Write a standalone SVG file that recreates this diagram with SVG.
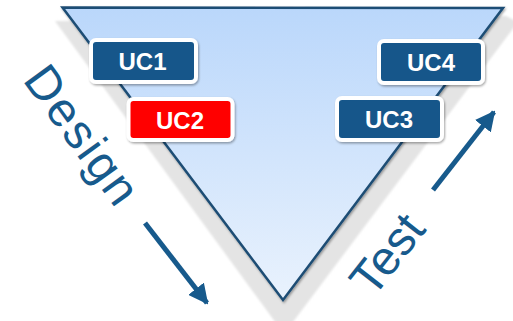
<svg xmlns="http://www.w3.org/2000/svg" width="513" height="321" viewBox="0 0 513 321">
<defs>
<linearGradient id="tri" x1="0" y1="0" x2="0" y2="1">
<stop offset="0" stop-color="#bad7fb"/>
<stop offset="1" stop-color="#e9f2fd"/>
</linearGradient>
<filter id="blur" x="-5%" y="-5%" width="110%" height="110%"><feGaussianBlur stdDeviation="1.2"/></filter>
<filter id="ds" x="-10%" y="-10%" width="130%" height="130%"><feDropShadow dx="1" dy="1.5" stdDeviation="1.2" flood-color="#000" flood-opacity="0.35"/></filter>
<marker id="ah" viewBox="0 0 10 10" refX="9" refY="5" markerWidth="4" markerHeight="4" orient="auto" markerUnits="strokeWidth">
<path d="M0,0 L10,5 L0,10 Z" fill="#175a8c"/>
</marker>
<style>
.box rect{stroke:#fff;stroke-width:4;filter:url(#ds)}
.blue rect{fill:#14568a}
.red rect{fill:#ff0000}
.box text{font-family:"Liberation Sans",Arial,sans-serif;font-weight:bold;font-size:24px;fill:#fff;text-anchor:middle}
.lbl{font-family:"Liberation Sans",Arial,sans-serif;font-size:48px;fill:#175a8c}
.arr{stroke:#175a8c;stroke-width:5;fill:none;marker-end:url(#ah)}
</style>
</defs>
<rect width="513" height="321" fill="#fff"/>
<g id="triangle">
<polygon points="55,21 506,16 518,22 284,334" fill="#e4e4e4" filter="url(#blur)"/>
<polygon points="62.5,7.5 503,8 283,300" fill="url(#tri)" stroke="#1f4d74" stroke-width="2.5" stroke-linejoin="miter" filter="url(#ds)"/>
</g>
<g id="uc1" class="box blue"><rect x="91" y="40" width="105" height="42" rx="5"/><text x="142.5" y="70">UC1</text></g>
<g id="uc2" class="box red"><rect x="128.5" y="99" width="104" height="41" rx="5"/><text x="180" y="128.5">UC2</text></g>
<g id="uc3" class="box blue"><rect x="337" y="98" width="105" height="42" rx="5"/><text x="389" y="128">UC3</text></g>
<g id="uc4" class="box blue"><rect x="379" y="41" width="104" height="42" rx="5"/><text x="431" y="71">UC4</text></g>
<g id="design"><text class="lbl" font-size="49" letter-spacing="2" transform="translate(22,80) rotate(54)">Design</text></g>
<g id="test"><text class="lbl" transform="translate(373,299) rotate(-52)">Test</text></g>
<g id="connectors">
<line class="arr" x1="145" y1="223" x2="207" y2="303"/>
<line class="arr" x1="433" y1="190" x2="494" y2="112"/>
</g>
</svg>
